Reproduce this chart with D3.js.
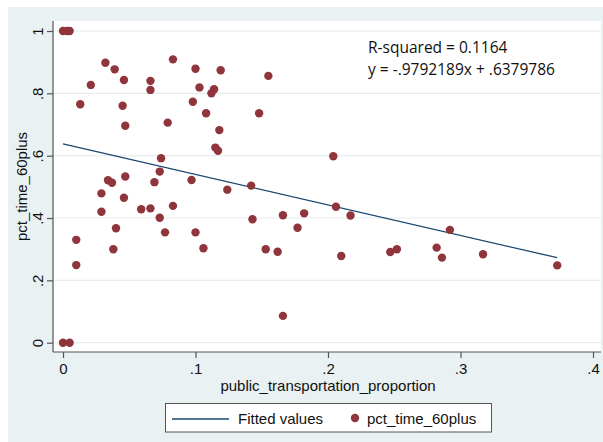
<!DOCTYPE html>
<html>
<head>
<meta charset="utf-8">
<script src="https://cdn.jsdelivr.net/npm/d3@7"></script>
<style>
  html, body { margin: 0; padding: 0; background: #ffffff; }
  svg { display: block; }
  text { font-family: "Liberation Sans", Arial, sans-serif; fill: #111; }
</style>
</head>
<body>
<svg id="chart" width="603" height="442"></svg>
<script>
// ---- data ----
const xValues = [0.000,0.003,0.005,0.013,0.021,0.032,0.039,0.046,0.045,0.047,
  0.066,0.066,0.083,0.079,0.100,0.103,0.098,0.074,0.073,0.069,
  0.034,0.037,0.047,0.029,0.097,0.046,0.119,0.155,0.114,0.112,
  0.108,0.148,0.118,0.115,0.117,0.204,0.124,0.142,0.029,0.059,
  0.066,0.073,0.077,0.083,0.040,0.038,0.010,0.010,0.100,0.106,
  0.000,0.005,0.206,0.217,0.143,0.166,0.182,0.177,0.153,0.162,
  0.210,0.166,0.247,0.252,0.282,0.286,0.292,0.317,0.373];
const yValues = [1.000,1.000,1.000,0.765,0.827,0.898,0.877,0.843,0.760,0.696,
  0.840,0.811,0.909,0.706,0.879,0.819,0.773,0.592,0.549,0.515,
  0.521,0.513,0.533,0.479,0.522,0.465,0.874,0.856,0.813,0.800,
  0.736,0.736,0.682,0.626,0.616,0.598,0.491,0.504,0.420,0.428,
  0.431,0.401,0.354,0.439,0.367,0.300,0.330,0.249,0.354,0.303,
  0.000,0.000,0.436,0.408,0.396,0.409,0.415,0.369,0.300,0.292,
  0.278,0.086,0.291,0.300,0.305,0.273,0.362,0.284,0.248];
const fitSlope = -0.9792189;
const fitIntercept = 0.6379786;
const xTicks = [0, 0.1, 0.2, 0.3, 0.4];
const xTickLabels = ["0", ".1", ".2", ".3", ".4"];
const yTicks = [0, 0.2, 0.4, 0.6, 0.8, 1];
const yTickLabels = ["0", ".2", ".4", ".6", ".8", "1"];
const xTitle = "public_transportation_proportion";
const yTitle = "pct_time_60plus";
const annotation = ["R-squared = 0.1164", "y = -.9792189x + .6379786"];
const legendLabels = ["Fitted values", "pct_time_60plus"];

// ---- layout ----
const svg = d3.select("#chart");
const bg = "#e9f1f3";
const dotColor = "#90353b";
const lineColor = "#1a476f";
const plot = {left: 53, right: 601, top: 21, bottom: 352};

svg.append("rect").attr("x", 8).attr("y", 7).attr("width", 595).attr("height", 435).attr("fill", bg);
svg.append("rect").attr("x", plot.left).attr("y", plot.top)
  .attr("width", plot.right - plot.left).attr("height", plot.bottom - plot.top).attr("fill", "#ffffff");

const x = d3.scaleLinear().domain([0, 0.4]).range([63, 593]);
const y = d3.scaleLinear().domain([0, 1]).range([342.7, 31]);

// gridlines
svg.append("g").selectAll("line").data(yTicks).join("line")
  .attr("x1", plot.left).attr("x2", plot.right)
  .attr("y1", d => y(d)).attr("y2", d => y(d))
  .attr("stroke", "#e6eef0").attr("stroke-width", 1.2);

// x axis
const xAxis = d3.axisBottom(x).tickValues(xTicks).tickFormat((d, i) => xTickLabels[i])
  .tickSizeInner(6).tickSizeOuter(0).tickPadding(5);
const gx = svg.append("g").attr("transform", `translate(0,${plot.bottom})`).call(xAxis);
gx.select(".domain").remove();
gx.append("line").attr("x1", plot.left).attr("x2", plot.right).attr("y1", 0).attr("y2", 0)
  .attr("stroke", "#555").attr("stroke-width", 1.2);
gx.selectAll(".tick line").attr("stroke", "#555").attr("stroke-width", 1.2);
gx.selectAll(".tick text").attr("font-size", 15).attr("fill", "#111")
  .style("font-family", "Liberation Sans, Arial, sans-serif");

// y axis
const yAxis = d3.axisLeft(y).tickValues(yTicks).tickFormat((d, i) => yTickLabels[i])
  .tickSizeInner(6).tickSizeOuter(0).tickPadding(5);
const gy = svg.append("g").attr("transform", `translate(${plot.left},0)`).call(yAxis);
gy.select(".domain").remove();
gy.append("line").attr("x1", 0).attr("x2", 0).attr("y1", plot.top).attr("y2", plot.bottom)
  .attr("stroke", "#555").attr("stroke-width", 1.2);
gy.selectAll(".tick line").attr("stroke", "#555").attr("stroke-width", 1.2);
gy.selectAll(".tick text")
  .attr("font-size", 15).attr("fill", "#111")
  .style("font-family", "Liberation Sans, Arial, sans-serif")
  .attr("x", null).attr("dy", null)
  .attr("text-anchor", "middle")
  .attr("transform", "translate(-10,0) rotate(-90)");

// axis titles
svg.append("text").attr("x", (x(0) + x(0.4)) / 2).attr("y", 391)
  .attr("text-anchor", "middle").attr("font-size", 15).text(xTitle);
svg.append("text").attr("transform", `translate(27,${(plot.top + plot.bottom) / 2}) rotate(-90)`)
  .attr("text-anchor", "middle").attr("font-size", 15).text(yTitle);

// fitted line
const xMin = d3.min(xValues), xMax = d3.max(xValues);
const fitPts = [xMin, xMax].map(v => [v, fitIntercept + fitSlope * v]);
svg.append("path").datum(fitPts)
  .attr("d", d3.line().x(d => x(d[0])).y(d => y(d[1])))
  .attr("fill", "none").attr("stroke", lineColor).attr("stroke-width", 1.3);

// points
svg.append("g").selectAll("circle").data(xValues.map((v, i) => [v, yValues[i]])).join("circle")
  .attr("cx", d => x(d[0])).attr("cy", d => y(d[1])).attr("r", 4.2)
  .attr("fill", dotColor);

// annotation
svg.append("g").selectAll("text").data(annotation).join("text")
  .attr("x", 368).attr("y", (d, i) => 53 + i * 21.5)
  .attr("font-size", 15.5).style("font-family", "'Open Sans', sans-serif")
  .text(d => d);

// legend
const lg = svg.append("g");
lg.append("rect").attr("x", 165.5).attr("y", 403.5).attr("width", 326).attr("height", 28.5)
  .attr("fill", "#ffffff").attr("stroke", "#555").attr("stroke-width", 1);
lg.append("line").attr("x1", 172).attr("x2", 229).attr("y1", 419).attr("y2", 419)
  .attr("stroke", lineColor).attr("stroke-width", 1.3);
lg.append("text").attr("x", 238).attr("y", 424).attr("font-size", 15).text(legendLabels[0]);
lg.append("circle").attr("cx", 355).attr("cy", 418).attr("r", 4.2).attr("fill", dotColor);
lg.append("text").attr("x", 367).attr("y", 424).attr("font-size", 15).text(legendLabels[1]);
</script>
</body>
</html>
